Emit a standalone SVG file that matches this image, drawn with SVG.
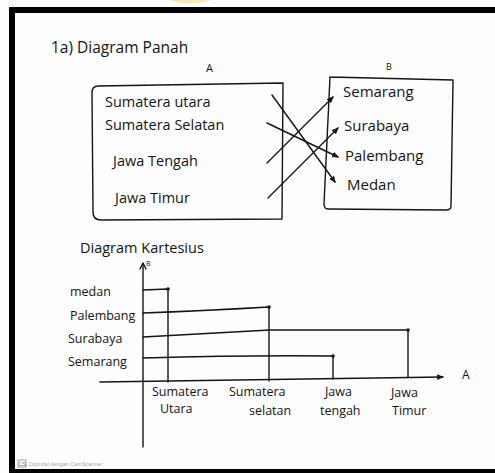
<svg xmlns="http://www.w3.org/2000/svg" width="495" height="473" viewBox="0 0 495 473">
<style>
.t{font-family:"Open Sans","Liberation Sans",sans-serif;fill:#141414}
.lg{font-size:14.5px}
.md{font-size:12.5px}
.sm{font-size:11px}
.ln{fill:none;stroke:#141414;stroke-width:1.4;stroke-linecap:round;stroke-linejoin:round}
.dot{fill:#141414}
</style>
<defs>
<marker id="ah" viewBox="0 0 6 6" refX="5" refY="3" markerWidth="5" markerHeight="5" orient="auto">
<path d="M0,0.5 L6,3 L0,5.5 z" fill="#141414"/>
</marker>
</defs>
<rect width="495" height="473" fill="#fdfdfd"/>
<path d="M168,0 Q190,7 212,0 z" fill="#f6d86a" opacity="0.5"/>
<!-- frame -->
<rect x="9" y="7" width="486" height="6" fill="#000"/>
<rect x="9" y="7" width="6" height="466" fill="#000"/>
<rect x="9" y="469" width="486" height="4" fill="#000"/>

<g id="title"><text class="t" x="51" y="53" font-size="15.5">1a) Diagram Panah</text></g>
<g id="labelA"><text class="t sm" x="206" y="72">A</text></g>
<g id="labelB"><text class="t" x="386" y="70" font-size="9">B</text></g>

<g id="setA">
<path class="ln" d="M98,86 Q92,86 92,93 L93,212 Q93,220 101,220 L282,219 L283,83 L98,86"/>
<text class="t lg" x="105" y="107">Sumatera utara</text>
<text class="t lg" x="105" y="130">Sumatera Selatan</text>
<text class="t lg" x="113" y="166">Jawa Tengah</text>
<text class="t lg" x="115" y="203">Jawa Timur</text>
</g>
<g id="setB">
<path class="ln" d="M330,77 L453,80 L451,206 Q451,210 446,210 L328,209 Q324,209 324,204 L330,77"/>
<text class="t" x="343" y="97" font-size="15">Semarang</text>
<text class="t" x="344" y="131" font-size="15">Surabaya</text>
<text class="t" x="345" y="161" font-size="15">Palembang</text>
<text class="t" x="347" y="190" font-size="15">Medan</text>
</g>

<g id="connectors">
<path class="ln" d="M272,95 L335,182" marker-end="url(#ah)"/>
<path class="ln" d="M267,123 L338,157" marker-end="url(#ah)"/>
<path class="ln" d="M267,163 L333,97" marker-end="url(#ah)"/>
<path class="ln" d="M268,198 L338,128" marker-end="url(#ah)"/>
</g>

<g id="cartTitle"><text class="t" x="80" y="253" font-size="14.5">Diagram Kartesius</text></g>

<g id="axes">
<path class="ln" d="M143,447 L143,264"/>
<path class="ln" d="M140,269 L143,263 L146,269"/>
<text class="t" x="146" y="266" font-size="7">B</text>
<path class="ln" d="M100,382 L443,377" marker-end="url(#ah)"/>
<text class="t" x="462" y="379" font-size="12">A</text>
</g>

<g id="yLabels">
<text class="t md" x="70" y="296">medan</text>
<text class="t md" x="70" y="320">Palembang</text>
<text class="t md" x="68" y="343">Surabaya</text>
<text class="t md" x="68" y="366">Semarang</text>
</g>

<g id="xLabels">
<text class="t md" x="152" y="396">Sumatera</text>
<text class="t md" x="160" y="413">Utara</text>
<text class="t md" x="229" y="396">Sumatera</text>
<text class="t md" x="249" y="415">selatan</text>
<text class="t md" x="325" y="396">Jawa</text>
<text class="t md" x="320" y="415">tengah</text>
<text class="t md" x="391" y="397">Jawa</text>
<text class="t md" x="392" y="415">Timur</text>
</g>

<g id="connectors-cartesian">
<path class="ln" d="M143,290 L168,289 L168,382"/>
<path class="ln" d="M143,313 Q200,311 269,307 L269,381"/>
<path class="ln" d="M143,337 Q230,332 270,330 L408,330 L408,377"/>
<path class="ln" d="M143,358 Q250,355 333,356 L333,379"/>
<circle class="dot" cx="168" cy="289" r="1.8"/>
<circle class="dot" cx="269" cy="307" r="1.8"/>
<circle class="dot" cx="408" cy="330" r="1.8"/>
<circle class="dot" cx="333" cy="356" r="1.8"/>
</g>

<g id="footer">
<rect x="18" y="460" width="8" height="7" fill="none" stroke="#888" stroke-width="0.8"/>
<text x="18.5" y="466" font-family="Liberation Sans,sans-serif" font-size="5.5" fill="#777">CS</text>
<text x="29" y="466" font-family="Liberation Sans,sans-serif" font-size="5.5" fill="#aaa">Dipindai dengan CamScanner</text>
</g>
</svg>
